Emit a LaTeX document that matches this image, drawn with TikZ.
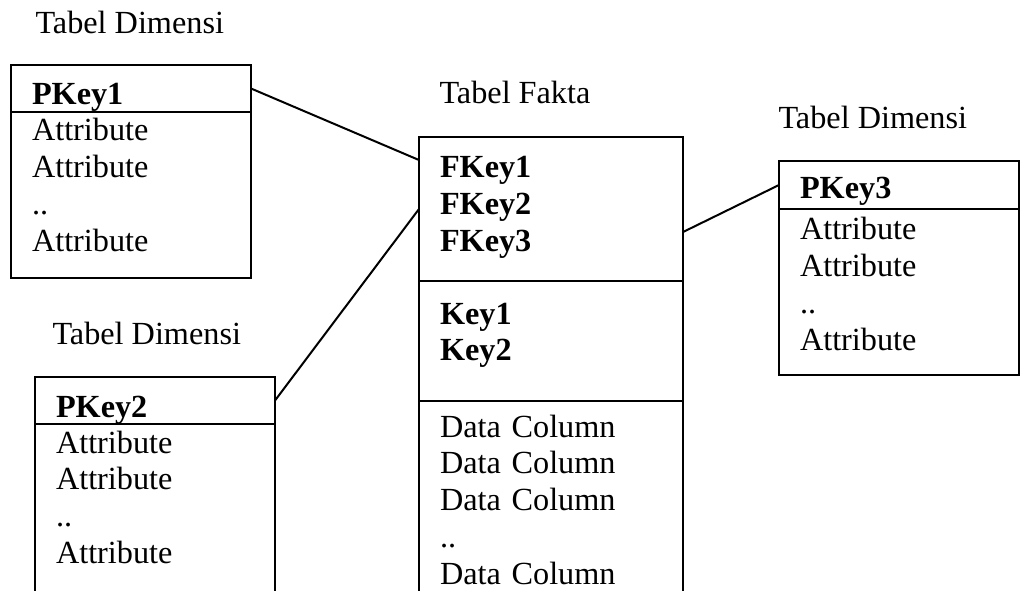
\documentclass[tikz,border=0pt]{standalone}
\usepackage{fontspec}
\setmainfont{Liberation Serif}
\usetikzlibrary{calc}

\begin{document}
\begin{tikzpicture}[x=.4pt,y=-.4pt,font=\fontsize{12.9}{14.75}\selectfont,
    tebal/.style={font=\fontsize{12.9}{14.75}\selectfont\bfseries},
    judul/.style={anchor=base west,inner sep=0pt},
    bagian/.style={draw,line width=.8pt,anchor=north west,outer sep=0pt,
      inner xsep=8.4pt,inner ysep=0pt,align=left},
    dimensi/.style={bagian,text width=79.2pt},
    fakta/.style={bagian,text width=88.8pt},
    garis/.style={line width=.8pt}]
  \useasboundingbox (0,0) rectangle (1025,591);
  \clip (0,0) rectangle (1025,591);

  % dimensi kiri atas
  \node[judul] (jd1) at (35,34) {Tabel Dimensi};
  \node[dimensi,tebal,text height=16pt,text depth=2.8pt] (pk1) at (11,65) {PKey1};
  \node[dimensi,text height=11.6pt,text depth=54.8pt] (at1) at (pk1.south west) {Attribute\\Attribute\\..\\Attribute};

  % dimensi kiri bawah
  \node[judul] (jd2) at (52,345) {Tabel Dimensi};
  \node[dimensi,tebal,text height=16pt,text depth=2.8pt] (pk2) at (35,377) {PKey2};
  \node[dimensi,text height=11.6pt,text depth=80pt] (at2) at (pk2.south west) {Attribute\\Attribute\\..\\Attribute};

  % fakta
  \node[judul] (jf) at (439,104) {Tabel Fakta};
  \node[fakta,tebal,text height=16.4pt,text depth=41.2pt] (fk) at (419,137) {FKey1\\FKey2\\FKey3};
  \node[fakta,tebal,text height=17.2pt,text depth=30.8pt] (kunci) at (fk.south west) {Key1\\Key2};
  \node[fakta,text height=14.4pt,text depth=90pt] (data) at (kunci.south west) {Data Column\\Data Column\\Data Column\\..\\Data Column};

  % dimensi kanan
  \node[judul] (jd3) at (778,129) {Tabel Dimensi};
  \node[dimensi,tebal,text height=15.2pt,text depth=4pt] (pk3) at (779,161) {PKey3};
  \node[dimensi,text height=12.4pt,text depth=54pt] (at3) at (pk3.south west) {Attribute\\Attribute\\..\\Attribute};

  \draw[garis] (pk1.east) -- ($(fk.north west)!.16!(fk.south west)$);
  \draw[garis] (pk2.east) -- (fk.west);
  \draw[garis] ($(fk.north east)!.66!(fk.south east)$) -- (pk3.west);
\end{tikzpicture}
\end{document}
